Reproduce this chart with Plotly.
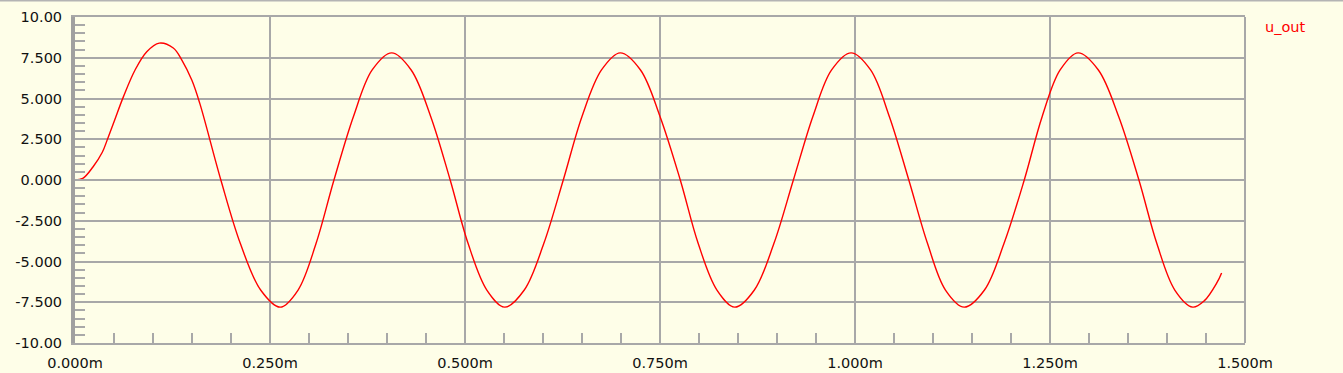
import plotly.graph_objects as go

# ---- data (time in ms, voltage) ----
t_ms = [0.000, 0.010, 0.023, 0.035, 0.042, 0.051, 0.062, 0.077, 0.092, 0.108,
        0.126, 0.137, 0.150, 0.160, 0.187,
        0.212, 0.238, 0.263, 0.286, 0.309, 0.332,
        0.357, 0.381, 0.406, 0.431, 0.456, 0.481,
        0.504, 0.528, 0.551, 0.576, 0.601, 0.626,
        0.650, 0.675, 0.699, 0.725, 0.750, 0.776,
        0.799, 0.823, 0.846, 0.871, 0.896, 0.921,
        0.946, 0.970, 0.995, 1.020, 1.044, 1.069,
        1.093, 1.116, 1.140, 1.166, 1.191, 1.217,
        1.240, 1.263, 1.286, 1.312, 1.338, 1.364,
        1.387, 1.410, 1.433, 1.448, 1.464, 1.470]
u_out = [0.00, 0.10, 0.80, 1.70, 2.55, 3.70, 5.10, 6.75, 7.87, 8.40,
         8.10, 7.36, 6.10, 4.70, 0.00,
         -3.90, -6.75, -7.80, -6.75, -3.90, 0.00,
         3.90, 6.75, 7.80, 6.75, 3.90, 0.00,
         -3.90, -6.75, -7.80, -6.75, -3.90, 0.00,
         3.90, 6.75, 7.80, 6.75, 3.90, 0.00,
         -3.90, -6.75, -7.80, -6.75, -3.90, 0.00,
         3.90, 6.75, 7.80, 6.75, 3.90, 0.00,
         -3.90, -6.75, -7.80, -6.75, -3.90, 0.00,
         3.90, 6.75, 7.80, 6.75, 3.90, 0.00,
         -3.90, -6.75, -7.80, -7.40, -6.30, -5.70]

x_tickvals = [0.0, 0.25, 0.5, 0.75, 1.0, 1.25, 1.5]
x_ticktext = ["0.000m", "0.250m", "0.500m", "0.750m", "1.000m", "1.250m", "1.500m"]
y_tickvals = [10, 7.5, 5, 2.5, 0, -2.5, -5, -7.5, -10]
y_ticktext = ["10.00", "7.500", "5.000", "2.500", "0.000", "-2.500", "-5.000", "-7.500", "-10.00"]
series_name = "u_out"

BG = "#FEFEE8"
GRID = "#A8A8A8"
FONT = "DejaVu Sans"
FS = 14.5

W, H = 1343, 373
ML, MR, MT, MB = 75, 98, 17, 30
PW, PH = W - ML - MR, H - MT - MB

fig = go.Figure()
fig.add_trace(go.Scatter(x=t_ms, y=u_out, mode="lines", name=series_name,
                         line=dict(color="#FF0000", width=1.4, shape="spline", smoothing=1.0),
                         showlegend=False))

fig.update_layout(
    width=W, height=H,
    margin=dict(l=ML, r=MR, t=MT, b=MB, pad=0, autoexpand=False),
    paper_bgcolor=BG, plot_bgcolor=BG,
    font=dict(family=FONT, size=FS, color="#111111"),
)

fig.update_xaxes(
    range=[0, 1.5], tickvals=x_tickvals, ticktext=x_ticktext, automargin=False,
    showgrid=True, gridcolor=GRID, gridwidth=2, zeroline=False,
    showline=True, linecolor=GRID, linewidth=2, mirror=True,
    ticks="inside", ticklen=10, tickcolor=GRID, tickwidth=1.5,
    minor=dict(dtick=0.05, ticks="inside", ticklen=10, tickcolor=GRID, tickwidth=1.5, showgrid=False),
    ticklabelstandoff=6,
)
fig.update_yaxes(
    range=[-10, 10], tickvals=y_tickvals, ticktext=y_ticktext, automargin=False,
    showgrid=True, gridcolor=GRID, gridwidth=2, zeroline=False,
    showline=True, linecolor="#A0A0A0", linewidth=4,
    ticks="inside", ticklen=10, tickcolor=GRID, tickwidth=2,
    minor=dict(dtick=0.5, ticks="inside", ticklen=10, tickcolor=GRID, tickwidth=2, showgrid=False),
    ticklabelstandoff=6,
)

# right border of plot
fig.add_shape(type="line", xref="paper", yref="paper", x0=1, x1=1, y0=0, y1=1,
              line=dict(color=GRID, width=2))
# window top border
fig.add_shape(type="line", xref="paper", yref="paper",
              x0=-ML / PW, x1=(W - ML) / PW, y0=1 + (MT - 0.75) / PH, y1=1 + (MT - 0.75) / PH,
              line=dict(color="#B4B4B4", width=1.5))

# series label (legend text)
fig.add_annotation(text=series_name, xref="paper", yref="paper",
                   x=(1263 - ML) / PW, y=(H - MB - 27) / PH,
                   xanchor="left", yanchor="middle", showarrow=False,
                   font=dict(family=FONT, size=FS, color="#FF0000"))

fig.write_html("out.html")
